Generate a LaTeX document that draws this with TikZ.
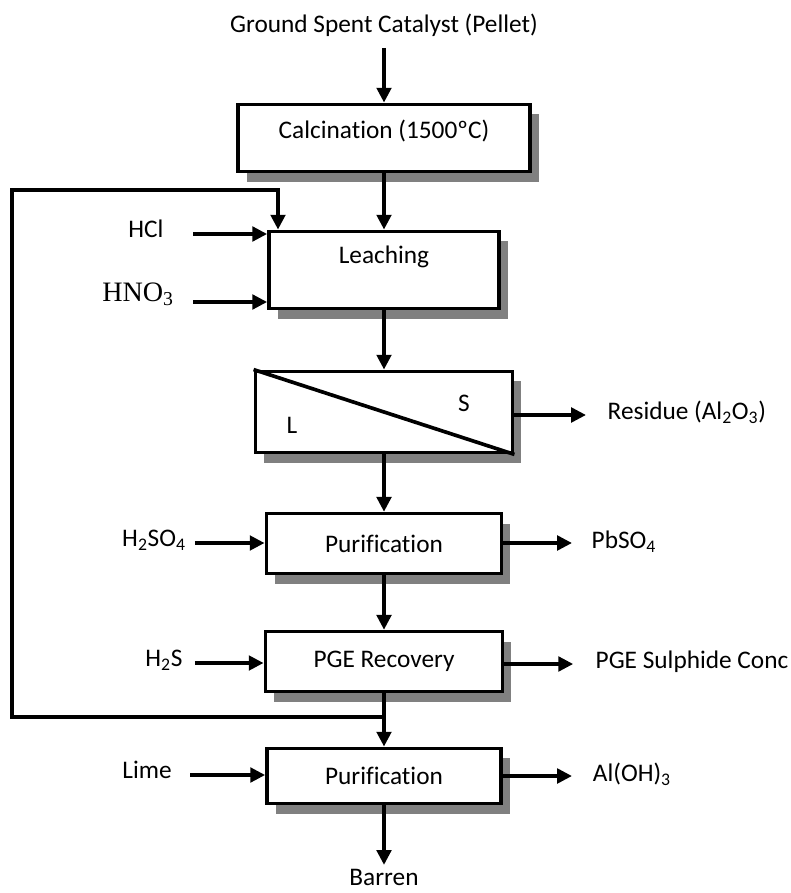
\documentclass[tikz,border=0pt]{standalone}
\usepackage{fontspec}
\setmainfont{Carlito}[Ligatures=CommonOff]
\newfontfamily\serifchem{Liberation Serif}
\usetikzlibrary{positioning, shadows, arrows.meta, calc}

\begin{document}
\begin{tikzpicture}[>={Triangle[length=0.37cm,width=0.36cm]}, font=\fontsize{18}{21}\selectfont, unit/.style={draw, rectangle, line width=2.6pt, fill=white, drop shadow={shadow xshift=0.22cm, shadow yshift=-0.25cm, fill=black!50, opacity=1}}, flow/.style={->, line width=2.6pt, line join=miter}, stream/.style={inner sep=1pt}]
\useasboundingbox (0,0) rectangle (19.75,-22.325);
% units
\node[stream] (Feed) at (9.6,-0.625) {Ground Spent Catalyst (Pellet)};
\node[unit, minimum width=7.3cm, minimum height=1.68cm, text depth=0.45cm] (Calc) at (9.6,-3.45) {Calcination (1500ºC)};
\node[unit, minimum width=5.75cm, minimum height=1.93cm, text depth=0.75cm] (Leach) at (9.6,-6.75) {Leaching};
\node[unit, minimum width=6.43cm, minimum height=2.03cm] (Sep) at (9.6,-10.3) {};
\draw[line width=2.6pt] (Sep.north west) -- (Sep.south east);
\node[stream] (SepS) at (11.6,-10.075) {S};
\node[stream] (SepL) at (7.3,-10.625) {L};
\node[unit, minimum width=5.88cm, minimum height=1.5cm] (Purif) at (9.6,-13.59) {Purification};
\node[unit, minimum width=5.93cm, minimum height=1.5cm] (PGE) at (9.6,-16.54) {PGE Recovery};
\node[unit, minimum width=5.85cm, minimum height=1.38cm] (Lime) at (9.6,-19.4) {Purification};
\node[stream] (Barren) at (9.6,-21.93) {Barren};
% reagents
\node[stream] (HCl) at (3.65,-5.725) {HCl};
\node[stream] (HNO) at (3.45,-7.35) {\serifchem\fontsize{20}{22}\selectfont HNO\textsubscript{3}};
\node[stream] (HSO) at (3.85,-13.5) {H\textsubscript{2}SO\textsubscript{4}};
\node[stream] (HS) at (4.1,-16.5) {H\textsubscript{2}S};
\node[stream] (LimeIn) at (3.675,-19.25) {Lime};
\coordinate (hclIn) at (4.83,-5.85);
\coordinate (hnoIn) at (4.83,-7.55);
\coordinate (hsoIn) at (4.87,-13.575);
\coordinate (hsIn) at (4.87,-16.575);
\coordinate (limeArr) at (4.75,-19.375);
% products
\node[stream, anchor=west] (Residue) at (15.15,-10.3) {Residue (Al\textsubscript{2}O\textsubscript{3})};
\node[stream, anchor=west] (PbSO) at (14.75,-13.55) {PbSO\textsubscript{4}};
\node[stream, anchor=west] (Conc) at (14.85,-16.55) {PGE Sulphide Conc};
\node[stream, anchor=west] (AlOH) at (14.78,-19.35) {Al(OH)\textsubscript{3}};
\coordinate (resOut) at (14.65,-10.375);
\coordinate (pbOut) at (14.3,-13.575);
\coordinate (concOut) at (14.33,-16.6);
\coordinate (alOut) at (14.3,-19.4);
% recycle loop
\coordinate (loopJ) at (9.6,-17.925);
\coordinate (loopL) at (0.3,-17.925);
\coordinate (loopT) at (6.95,-4.75);
% main line
\draw[flow, shorten <=0.25cm] (Feed.south) -- (Calc.north);
\draw[flow] (Calc.south) -- (Leach.north);
\draw[flow] (Leach.south) -- (Sep.north);
\draw[flow] (Sep.south) -- (Purif.north);
\draw[flow] (Purif.south) -- (PGE.north);
\draw[flow] (PGE.south) -- (Lime.north);
\draw[flow, shorten >=0.06cm] (Lime.south) -- (Barren.north);
\draw[flow] (loopJ) -- (loopL) |- (loopT) -- (loopT |- Leach.north);
% inputs
\draw[flow] (hclIn) -- (hclIn -| Leach.west);
\draw[flow] (hnoIn) -- (hnoIn -| Leach.west);
\draw[flow] (hsoIn) -- (hsoIn -| Purif.west);
\draw[flow] (hsIn) -- (hsIn -| PGE.west);
\draw[flow] (limeArr) -- (limeArr -| Lime.west);
% outputs
\draw[flow] (resOut -| Sep.east) -- (resOut);
\draw[flow] (pbOut -| Purif.east) -- (pbOut);
\draw[flow] (concOut -| PGE.east) -- (concOut);
\draw[flow] (alOut -| Lime.east) -- (alOut);
\end{tikzpicture}
\end{document}
